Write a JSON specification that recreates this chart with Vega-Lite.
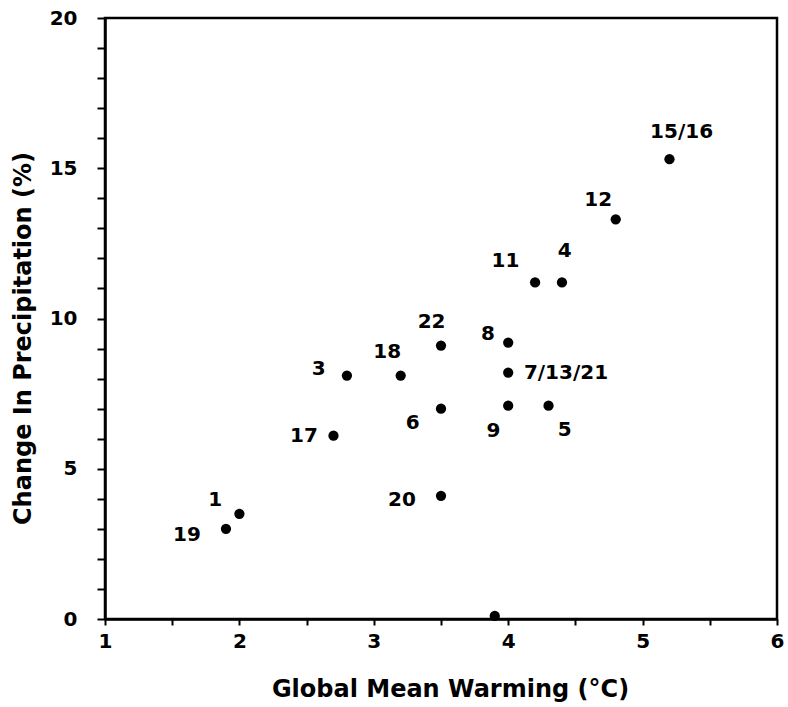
{
  "$schema": "https://vega.github.io/schema/vega-lite/v6.json",
  "autosize": {"type": "none"},
  "padding": {"left": 105, "top": 18, "right": 10, "bottom": 88},
  "width": 672,
  "height": 601,
  "background": "white",
  "config": {
    "view": {"stroke": "black", "strokeWidth": 2.5},
    "font": "DejaVu Sans",
    "axis": {
      "domainColor": "black", "domainWidth": 2.5, "tickColor": "black", "tickWidth": 2,
      "labelFont": "DejaVu Sans", "labelFontWeight": "bold", "labelFontSize": 20, "labelColor": "black",
      "titleFont": "DejaVu Sans", "titleFontWeight": "bold", "titleFontSize": 24, "titleColor": "black",
      "grid": false, "labelOverlap": false
    }
  },
  "data": {
    "values": [
      {"id": "1", "warming": 2.0, "precip": 3.5, "lx": 1.82, "ly": 3.97},
      {"id": "19", "warming": 1.9, "precip": 3.0, "lx": 1.61, "ly": 2.8},
      {"id": "17", "warming": 2.7, "precip": 6.1, "lx": 2.48, "ly": 6.1},
      {"id": "3", "warming": 2.8, "precip": 8.1, "lx": 2.59, "ly": 8.33},
      {"id": "18", "warming": 3.2, "precip": 8.1, "lx": 3.1, "ly": 8.87},
      {"id": "22", "warming": 3.5, "precip": 9.1, "lx": 3.43, "ly": 9.87},
      {"id": "6", "warming": 3.5, "precip": 7.0, "lx": 3.29, "ly": 6.53},
      {"id": "20", "warming": 3.5, "precip": 4.1, "lx": 3.21, "ly": 3.97},
      {"id": "8", "warming": 4.0, "precip": 9.2, "lx": 3.85, "ly": 9.47},
      {"id": "7/13/21", "warming": 4.0, "precip": 8.2, "lx": 4.43, "ly": 8.2},
      {"id": "9", "warming": 4.0, "precip": 7.1, "lx": 3.89, "ly": 6.27},
      {"id": "5", "warming": 4.3, "precip": 7.1, "lx": 4.42, "ly": 6.3},
      {"id": "11", "warming": 4.2, "precip": 11.2, "lx": 3.98, "ly": 11.9},
      {"id": "4", "warming": 4.4, "precip": 11.2, "lx": 4.42, "ly": 12.23},
      {"id": "12", "warming": 4.8, "precip": 13.3, "lx": 4.67, "ly": 13.93},
      {"id": "15/16", "warming": 5.2, "precip": 15.3, "lx": 5.29, "ly": 16.2},
      {"id": "", "warming": 3.9, "precip": 0.1, "lx": null, "ly": null}
    ]
  },
  "layer": [
    {
      "mark": {"type": "circle", "size": 105, "color": "black", "opacity": 1, "clip": false},
      "encoding": {
        "x": {
          "field": "warming", "type": "quantitative",
          "scale": {"domain": [1, 6], "nice": false, "zero": false},
          "axis": {
            "title": "Global Mean Warming (°C)",
            "values": [1, 1.5, 2, 2.5, 3, 3.5, 4, 4.5, 5, 5.5, 6],
            "labelExpr": "datum.value % 1 == 0 ? format(datum.value, 'd') : ''",
            "labelOverlap": false, "labelFontSize": 20,
            "tickSize": 6, "labelPadding": 6, "titlePadding": 26, "labelFlush": false,
            "titleX": 345
          }
        },
        "y": {
          "field": "precip", "type": "quantitative",
          "scale": {"domain": [0, 20], "nice": false},
          "axis": {
            "title": "Change In Precipitation (%)",
            "values": [0,1,2,3,4,5,6,7,8,9,10,11,12,13,14,15,16,17,18,19,20],
            "labelExpr": "datum.value % 5 == 0 ? format(datum.value, 'd') : ''",
            "labelOverlap": false, "labelFontSize": 20,
            "tickSize": 8, "labelPadding": 20, "titlePadding": 14, "labelFlush": false,
            "titleY": 320
          }
        }
      }
    },
    {
      "transform": [{"filter": "datum.id != ''"}],
      "mark": {"type": "text", "fontSize": 20, "fontWeight": "bold", "font": "DejaVu Sans", "color": "black", "align": "center", "baseline": "middle"},
      "encoding": {
        "x": {
          "field": "lx", "type": "quantitative",
          "axis": {
            "title": "Global Mean Warming (°C)",
            "values": [1, 1.5, 2, 2.5, 3, 3.5, 4, 4.5, 5, 5.5, 6],
            "labelExpr": "datum.value % 1 == 0 ? format(datum.value, 'd') : ''",
            "labelOverlap": false, "labelFontSize": 20,
            "tickSize": 6, "labelPadding": 6, "titlePadding": 26, "labelFlush": false,
            "titleX": 345
          }
        },
        "y": {
          "field": "ly", "type": "quantitative",
          "axis": {
            "title": "Change In Precipitation (%)",
            "values": [0,1,2,3,4,5,6,7,8,9,10,11,12,13,14,15,16,17,18,19,20],
            "labelExpr": "datum.value % 5 == 0 ? format(datum.value, 'd') : ''",
            "labelOverlap": false, "labelFontSize": 20,
            "tickSize": 8, "labelPadding": 20, "titlePadding": 14, "labelFlush": false,
            "titleY": 320
          }
        },
        "text": {"field": "id"}
      }
    }
  ]
}
